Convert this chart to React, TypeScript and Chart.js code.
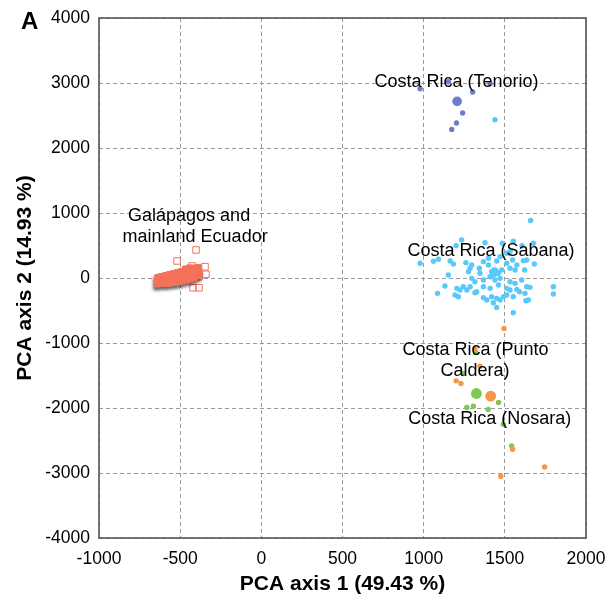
import React, { useEffect, useRef } from "react";
import { Chart, registerables } from "chart.js";

Chart.register(...registerables);

// ---- tick values ----
const xTickValues = [-1000, -500, 0, 500, 1000, 1500, 2000];
const yTickValues = [-4000, -3000, -2000, -1000, 0, 1000, 2000, 3000, 4000];

// ---- Galápagos and mainland Ecuador (dense core + outliers) ----
const galapagosCore: [number, number][] = [
  [-636, 5], [-636, -42], [-636, -88],
  [-612, 20], [-612, -26], [-612, -72],
  [-587, 35], [-587, -11], [-587, -57], [-587, -80],
  [-562, 51], [-562, 5], [-562, -42], [-562, -72],
  [-538, 66], [-538, 20], [-538, -26], [-538, -65],
  [-513, 81], [-513, 35], [-513, -11], [-513, -57],
  [-489, 97], [-489, 51], [-489, 5], [-489, -42],
  [-464, 135], [-464, 112], [-464, 66], [-464, 20], [-464, -26],
  [-439, 151], [-439, 128], [-439, 81], [-439, 35], [-439, -11],
  [-415, 143], [-415, 97], [-415, 51], [-415, 12],
  [-390, 158], [-390, 112], [-390, 66], [-390, 43],
];
const galapagosOutliers: [number, number][] = [
  [-402, 431], [-519, 262], [-347, 174], [-341, 57], [-384, 20],
  [-421, -150], [-384, -150], [-427, 185],
];

// ---- Costa Rica (Tenorio) ----
const tenorio: [number, number][] = [
  [978, 2912], [1152, 3020], [1302, 2861], [1409, 2990],
  [1240, 2538], [1202, 2384], [1173, 2286],
];
const tenorioCentre: [number, number][] = [[1206, 2717]];

// ---- Costa Rica (Sabana) ----
const sabana: [number, number][] = [
  [1659, 884], [1234, 586], [1200, 498], [1378, 544], [1485, 534], [1552, 565],
  [1676, 534], [1606, 498], [978, 226], [1060, 257], [1091, 288], [1163, 262],
  [1183, 216], [1260, 236], [1286, 149], [1343, 149], [1399, 200], [1450, 262],
  [1512, 226], [1548, 277], [1614, 267], [1635, 277], [1682, 216], [1574, 200],
  [1152, 46], [1276, 98], [1347, 72], [1419, 98], [1429, 46], [1461, 72],
  [1481, 123], [1532, 149], [1563, 123], [1622, 123], [1296, -5], [1316, -57],
  [1368, -31], [1409, 20], [1471, -5], [1439, -31], [1532, -57], [1563, -82],
  [1604, -31], [1635, -134], [1655, -144], [1799, -134], [1799, -247], [1131, -123],
  [1085, -236], [1204, -159], [1224, -185], [1266, -185], [1316, -226], [1193, -262],
  [1214, -288], [1244, -134], [1286, -134], [1368, -134], [1409, -159], [1461, -108],
  [1512, -159], [1532, -185], [1574, -175], [1590, -211], [1624, -236], [1630, -349],
  [1645, -339], [1552, -288], [1491, -288], [1471, -339], [1450, -313], [1368, -303],
  [1389, -339], [1429, -380], [1450, -452], [1419, -288], [1552, -534], [1512, -262],
  [1327, -211], [1512, 380], [1532, 406], [1368, 252], [1296, 200], [1399, 303],
  [1471, 329], [1439, 2435],
];
const sabanaCentre: [number, number][] = [[1436, 90]];

// ---- Costa Rica (Punto Caldera) ----
const puntoCaldera: [number, number][] = [
  [1495, -775], [1316, -1084], [1347, -1356], [1200, -1582], [1230, -1623],
  [1548, -2635], [1745, -2907], [1475, -3051],
];
const puntoCalderaCentre: [number, number][] = [[1413, -1818]];

// ---- Costa Rica (Nosara) ----
const nosara: [number, number][] = [
  [1320, -1145], [1244, -1469], [1461, -1916], [1266, -1993], [1306, -1972],
  [1397, -2024], [1491, -2250], [1542, -2584],
];
const nosaraCentre: [number, number][] = [[1325, -1777]];

// ---- group labels (text anchored at data coordinates) ----
const groupLabels: { text: string; x: number; y: number }[] = [
  { text: "Costa Rica (Tenorio)", x: 1202, y: 3022 },
  { text: "Galápagos and", x: -445, y: 958 },
  { text: "mainland Ecuador", x: -408, y: 636 },
  { text: "Costa Rica (Sabana)", x: 1415, y: 409 },
  { text: "Costa Rica (Punto", x: 1319, y: -1113 },
  { text: "Caldera)", x: 1316, y: -1436 },
  { text: "Costa Rica (Nosara)", x: 1407, y: -2163 },
];

const xTitle = "PCA axis 1 (49.43 %)";
const yTitle = "PCA axis 2 (14.93 %)";
const panelLetter = "A";

const FONT = '"Liberation Sans", Arial, Helvetica, sans-serif';
const C_GAL = "#F5725A";
const C_TEN = "#6F7CCB";
const C_SAB = "#5AC8F8";
const C_PUN = "#F79646";
const C_NOS = "#7DC84E";

const toPts = (a: [number, number][]) => a.map(([x, y]) => ({ x, y }));

export default function App() {
  const ref = useRef<HTMLCanvasElement | null>(null);

  useEffect(() => {
    document.body.style.margin = "0";
    const canvas = ref.current;
    if (!canvas) return;

    const overlay = {
      id: "overlay",
      beforeDatasetDraw(chart: any, args: any) {
        if (args.index !== 0) return;
        // draw the dense core off-screen, then composite it with a single soft shadow
        const off = document.createElement("canvas");
        off.width = chart.width;
        off.height = chart.height;
        const octx = off.getContext("2d") as CanvasRenderingContext2D;
        const area = chart.chartArea;
        for (const el of args.meta.data) el.draw(octx, area);
        const ctx = chart.ctx;
        ctx.save();
        ctx.beginPath();
        ctx.rect(area.left, area.top, area.right - area.left, area.bottom - area.top);
        ctx.clip();
        ctx.shadowColor = "rgba(0,0,0,0.6)";
        ctx.shadowBlur = 3;
        ctx.shadowOffsetX = -1;
        ctx.shadowOffsetY = 3;
        ctx.drawImage(off, 0, 0);
        ctx.restore();
        return false;
      },
      afterDraw(chart: any) {
        const { ctx, chartArea, scales } = chart;
        const { left, right, top, bottom } = chartArea;
        ctx.save();
        ctx.strokeStyle = "#555";
        ctx.lineWidth = 1.6;
        ctx.strokeRect(left, top, right - left, bottom - top);

        ctx.fillStyle = "#000";
        ctx.textAlign = "center";
        ctx.textBaseline = "middle";
        ctx.font = `18px ${FONT}`;
        for (const l of groupLabels) {
          ctx.fillText(l.text, scales.x.getPixelForValue(l.x), scales.y.getPixelForValue(l.y));
        }

        ctx.font = `bold 21px ${FONT}`;
        ctx.fillText(xTitle, (left + right) / 2, 584);
        ctx.save();
        ctx.translate(25, (top + bottom) / 2);
        ctx.rotate(-Math.PI / 2);
        ctx.fillText(yTitle, 0, 0);
        ctx.restore();

        ctx.font = `bold 24px ${FONT}`;
        ctx.textAlign = "left";
        ctx.textBaseline = "alphabetic";
        ctx.fillText(panelLetter, 21, 28.5);
        ctx.restore();
      },
    };

    const small = 2.7;
    const chart = new Chart(canvas, {
      type: "scatter",
      data: {
        datasets: [
          {
            label: "Galápagos core",
            data: toPts(galapagosCore),
            pointStyle: "rect",
            pointRadius: 4.6,
            backgroundColor: C_GAL,
            borderColor: C_GAL,
            borderWidth: 1,
          },
          {
            label: "Galápagos",
            data: toPts(galapagosOutliers),
            pointStyle: "rect",
            pointRadius: 4.6,
            backgroundColor: "rgba(255,255,255,0)",
            borderColor: C_GAL,
            borderWidth: 1,
          },
          {
            label: "Tenorio",
            data: toPts(tenorio),
            pointRadius: small,
            backgroundColor: C_TEN,
            borderWidth: 0,
          },
          {
            label: "Sabana",
            data: toPts(sabana),
            pointRadius: small,
            backgroundColor: C_SAB,
            borderWidth: 0,
          },
          {
            label: "Punto Caldera",
            data: toPts(puntoCaldera),
            pointRadius: small,
            backgroundColor: C_PUN,
            borderWidth: 0,
          },
          {
            label: "Nosara",
            data: toPts(nosara),
            pointRadius: small,
            backgroundColor: C_NOS,
            borderWidth: 0,
          },
          {
            label: "Tenorio centre",
            data: toPts(tenorioCentre),
            pointRadius: 4.8,
            backgroundColor: C_TEN,
            borderWidth: 0,
          },
          {
            label: "Sabana centre",
            data: toPts(sabanaCentre),
            pointRadius: 4.8,
            backgroundColor: C_SAB,
            borderWidth: 0,
          },
          {
            label: "Punto Caldera centre",
            data: toPts(puntoCalderaCentre),
            pointRadius: 5.4,
            backgroundColor: C_PUN,
            borderWidth: 0,
          },
          {
            label: "Nosara centre",
            data: toPts(nosaraCentre),
            pointRadius: 5.4,
            backgroundColor: C_NOS,
            borderWidth: 0,
          },
        ],
      },
      options: {
        responsive: false,
        animation: false,
        events: [],
        layout: { padding: { left: 0, right: 21, top: 18, bottom: 0 } },
        plugins: {
          legend: { display: false },
          tooltip: { enabled: false },
          title: { display: false },
        },
        scales: {
          x: {
            type: "linear",
            min: -1000,
            max: 2000,
            afterBuildTicks: (s: any) => {
              s.ticks = xTickValues.map((v) => ({ value: v }));
            },
            afterFit: (s: any) => {
              s.height = 62;
              s.paddingLeft = 0;
              s.paddingRight = 0;
            },
            ticks: {
              color: "#000",
              padding: 11,
              font: { family: FONT, size: 17.5 },
              maxRotation: 0,
              callback: (v: any) => String(v),
            },
            grid: { color: "#9a9a9a", lineWidth: 1, drawTicks: false },
            border: { display: false, dash: [4, 3] },
          },
          y: {
            type: "linear",
            min: -4000,
            max: 4000,
            afterBuildTicks: (s: any) => {
              s.ticks = yTickValues.map((v) => ({ value: v }));
            },
            afterFit: (s: any) => {
              s.width = 99;
              s.paddingTop = 0;
              s.paddingBottom = 0;
            },
            ticks: {
              color: "#000",
              padding: 9,
              font: { family: FONT, size: 17.5 },
              callback: (v: any) => String(v),
            },
            grid: { color: "#9a9a9a", lineWidth: 1, drawTicks: false },
            border: { display: false, dash: [4, 3] },
          },
        },
      },
      plugins: [overlay],
    });

    return () => chart.destroy();
  }, []);

  return (
    <div style={{ width: 607, height: 600 }}>
      <canvas ref={ref} width={607} height={600} style={{ display: "block" }} />
    </div>
  );
}
